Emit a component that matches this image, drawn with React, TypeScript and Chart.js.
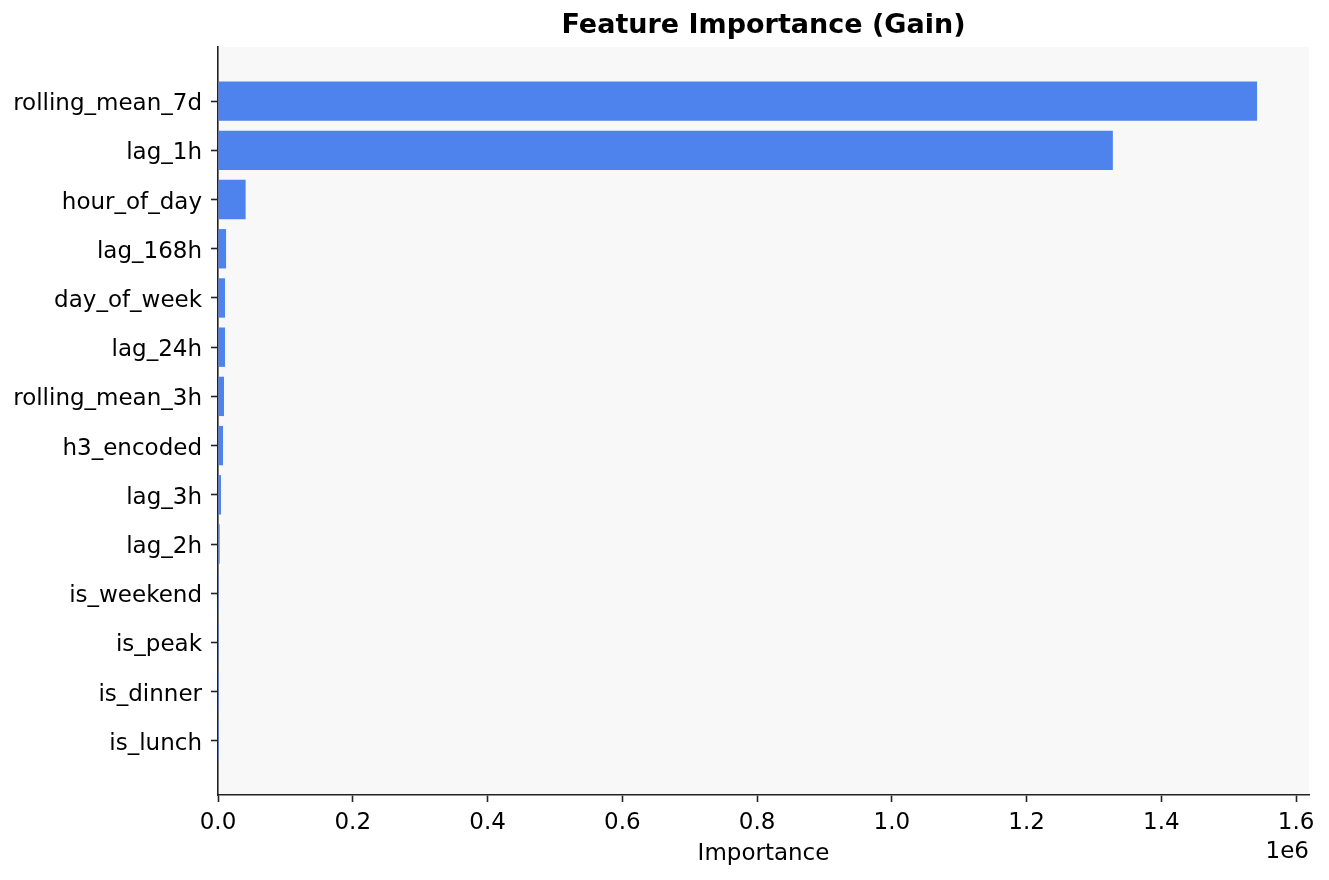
import React, { useEffect, useRef } from 'react';
import { Chart, registerables } from 'chart.js';

Chart.register(...registerables);

// feature names, top to bottom
const features = [
  'rolling_mean_7d',
  'lag_1h',
  'hour_of_day',
  'lag_168h',
  'day_of_week',
  'lag_24h',
  'rolling_mean_3h',
  'h3_encoded',
  'lag_3h',
  'lag_2h',
  'is_weekend',
  'is_peak',
  'is_dinner',
  'is_lunch',
];

// gain importance per feature
const gain = [1542000, 1328000, 41000, 12000, 10400, 10400, 8900, 7400, 4400, 2500, 300, 200, 100, 50];

const xTicks = [0, 200000, 400000, 600000, 800000, 1000000, 1200000, 1400000, 1600000];

const FONT = "'DejaVu Sans', sans-serif";

const textPlugin = {
  id: 'mplText',
  beforeDraw(chart: any) {
    const { ctx, chartArea: a, width, height } = chart;
    ctx.save();
    ctx.fillStyle = '#ffffff';
    ctx.fillRect(0, 0, width, height);
    ctx.fillStyle = '#f8f8f8';
    ctx.fillRect(a.left, a.top, a.right - a.left, a.bottom - a.top);
    ctx.restore();
  },
  afterDraw(chart: any) {
    const { ctx, chartArea: a } = chart;
    const cx = (a.left + a.right) / 2;
    ctx.save();
    ctx.fillStyle = '#000';
    ctx.textBaseline = 'middle';
    ctx.textAlign = 'center';
    ctx.font = `bold 27px ${FONT}`;
    ctx.fillText('Feature Importance (Gain)', cx, 26);
    ctx.font = `23px ${FONT}`;
    ctx.fillText('Importance', cx, 854);
    ctx.textAlign = 'right';
    ctx.fillText('1e6', a.right, 852);
    ctx.restore();
  },
};

export default function App() {
  const canvasRef = useRef<HTMLCanvasElement | null>(null);

  useEffect(() => {
    if (!canvasRef.current) return;
    const xMax = Math.max(...gain) * 1.05;

    const chart = new Chart(canvasRef.current, {
      type: 'bar',
      data: {
        datasets: [
          {
            label: 'Gain',
            data: gain.map((v, i) => ({ x: v, y: i })),
            backgroundColor: 'rgb(78,130,236)',
            borderWidth: 0,
            categoryPercentage: 1,
            barPercentage: 0.8,
          },
        ],
      },
      options: {
        indexAxis: 'y',
        responsive: false,
        animation: false,
        layout: { padding: { top: 47, right: 20, left: 0, bottom: 0 } },
        plugins: {
          legend: { display: false },
          tooltip: { enabled: false },
          title: { display: false },
        },
        scales: {
          x: {
            type: 'linear',
            min: 0,
            max: xMax,
            offset: false,
            afterBuildTicks: (s: any) => {
              s.ticks = xTicks.map((v) => ({ value: v }));
            },
            afterFit: (s: any) => {
              s.height = 85;
            },
            grid: { offset: false, drawOnChartArea: false, drawTicks: true, tickLength: 7, tickColor: '#222', tickWidth: 1.6 },
            border: { display: true, color: '#222', width: 1.6 },
            ticks: {
              color: '#000',
              padding: 7,
              maxRotation: 0,
              font: { family: FONT, size: 23 },
              callback: (v: any) => (Number(v) / 1e6).toFixed(1),
            },
          },
          y: {
            type: 'linear',
            reverse: true,
            min: -1.1,
            max: features.length - 1 + 1.1,
            offset: false,
            z: 1,
            afterBuildTicks: (s: any) => {
              s.ticks = features.map((_, i) => ({ value: i }));
            },
            afterFit: (s: any) => {
              s.width = 218;
            },
            grid: { offset: false, drawOnChartArea: false, drawTicks: true, tickLength: 7, tickColor: '#222', tickWidth: 1.6 },
            border: { display: true, color: '#222', width: 1.6 },
            ticks: {
              color: '#000',
              padding: 9,
              labelOffset: 3,
              autoSkip: false,
              font: { family: FONT, size: 23 },
              callback: (v: any) => features[Number(v)] ?? '',
            },
          },
        },
      },
      plugins: [textPlugin],
    } as any);

    return () => chart.destroy();
  }, []);

  return (
    <div style={{ position: 'absolute', left: 0, top: 0, width: 1329, height: 880, background: '#fff' }}>
      <canvas ref={canvasRef} width={1329} height={880} style={{ width: 1329, height: 880 }} />
    </div>
  );
}
